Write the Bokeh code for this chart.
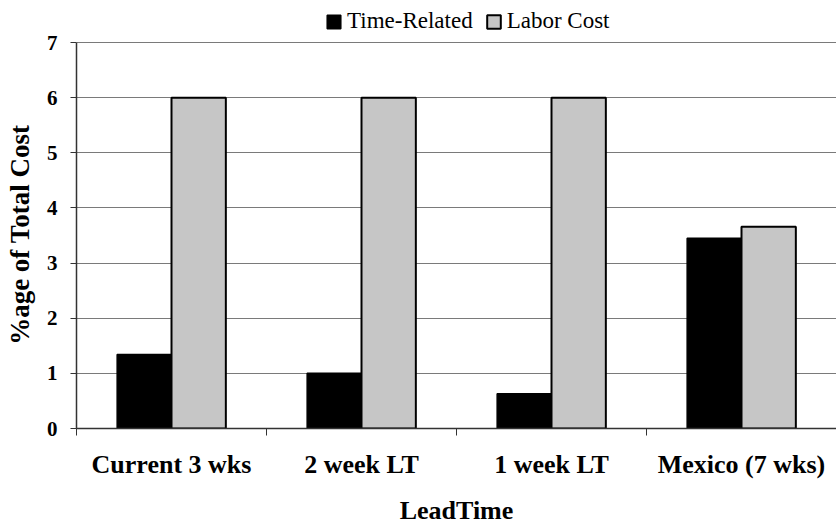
from bokeh.plotting import figure
from bokeh.models import (ColumnDataSource, FixedTicker, Legend, LegendItem,
                          Range1d)
from bokeh.embed import file_html
from bokeh.resources import INLINE

# Share of total cost by lead-time scenario
categories = ["Current 3 wks", "2 week LT", "1 week LT", "Mexico (7 wks)"]
time_related = [1.34, 1.0, 0.63, 3.45]
labor_cost = [6.0, 6.0, 6.0, 3.66]
y_ticks = [0, 1, 2, 3, 4, 5, 6, 7]

SERIF = "Liberation Serif"
BAR_W = 0.286
centers = [i + 0.5 for i in range(len(categories))]

src = ColumnDataSource(dict(
    x_time=[c - BAR_W / 2 for c in centers],
    x_labor=[c + BAR_W / 2 for c in centers],
    time=time_related,
    labor=labor_cost,
))

# the frame runs to the top edge so the legend can sit above the 7 line;
# the y axis itself is bounded to 0..7
p = figure(frame_width=760, frame_height=428, output_backend="svg",
           toolbar_location=None,
           x_range=Range1d(0, len(categories)), y_range=Range1d(0, 7.762),
           min_border_left=76, min_border_right=0, min_border_top=0,
           min_border_bottom=0)
p.outline_line_color = None
p.background_fill_color = "white"
p.border_fill_color = "white"

r_time = p.vbar(x="x_time", top="time", width=BAR_W, source=src,
                fill_color="black", line_color="black", line_width=1.5)
r_labor = p.vbar(x="x_labor", top="labor", width=BAR_W, source=src,
                 fill_color="#c6c6c6", line_color="black", line_width=2)

# x axis: labels centred on each group, tick marks on group boundaries
xa = p.xaxis[0]
xa.ticker = FixedTicker(ticks=centers, minor_ticks=list(range(len(categories) + 1)))
xa.major_label_overrides = {c: name for c, name in zip(centers, categories)}
xa.major_tick_line_color = None
xa.major_tick_out = 6
xa.minor_tick_out = 7
xa.minor_tick_in = 0
xa.minor_tick_line_color = "#333333"
xa.axis_line_color = "#333333"
xa.axis_line_width = 1.5
xa.major_label_text_font = SERIF
xa.major_label_text_font_style = "bold"
xa.major_label_text_font_size = "26px"
xa.major_label_text_color = "black"
xa.major_label_standoff = 14
xa.axis_label = "LeadTime"
xa.axis_label_text_font = SERIF
xa.axis_label_text_font_style = "bold"
xa.axis_label_text_font_size = "26px"
xa.axis_label_text_color = "black"
xa.axis_label_standoff = 14

ya = p.yaxis[0]
ya.ticker = FixedTicker(ticks=y_ticks)
ya.bounds = (0, 7)
ya.minor_tick_line_color = None
ya.major_tick_out = 6
ya.major_tick_in = 0
ya.major_tick_line_color = "#333333"
ya.axis_line_color = "#333333"
ya.axis_line_width = 1.5
ya.major_label_text_font = SERIF
ya.major_label_text_font_style = "bold"
ya.major_label_text_font_size = "21px"
ya.major_label_text_color = "black"
ya.major_label_standoff = 13
# trailing no-break spaces keep the label centred on the 0..7 span
ya.axis_label = "%age of Total Cost" + "\u00a0" * 6
ya.axis_label_text_font = SERIF
ya.axis_label_text_font_style = "bold"
ya.axis_label_text_font_size = "27px"
ya.axis_label_text_color = "black"
ya.axis_label_standoff = 9

p.xgrid.grid_line_color = None
p.ygrid.ticker = FixedTicker(ticks=y_ticks)
p.ygrid.grid_line_color = "#7a7a7a"
p.ygrid.grid_line_width = 1

legend = Legend(items=[LegendItem(label="Time-Related", renderers=[r_time]),
                       LegendItem(label="Labor Cost", renderers=[r_labor])],
                orientation="horizontal", location=(249, 394),
                label_text_font=SERIF, label_text_font_size="23px",
                label_text_color="black", glyph_width=17, glyph_height=17,
                label_standoff=5, spacing=12, padding=2, margin=0,
                border_line_color=None, background_fill_alpha=0)
p.add_layout(legend, "center")

open("out.html", "w").write(file_html(p, INLINE))
